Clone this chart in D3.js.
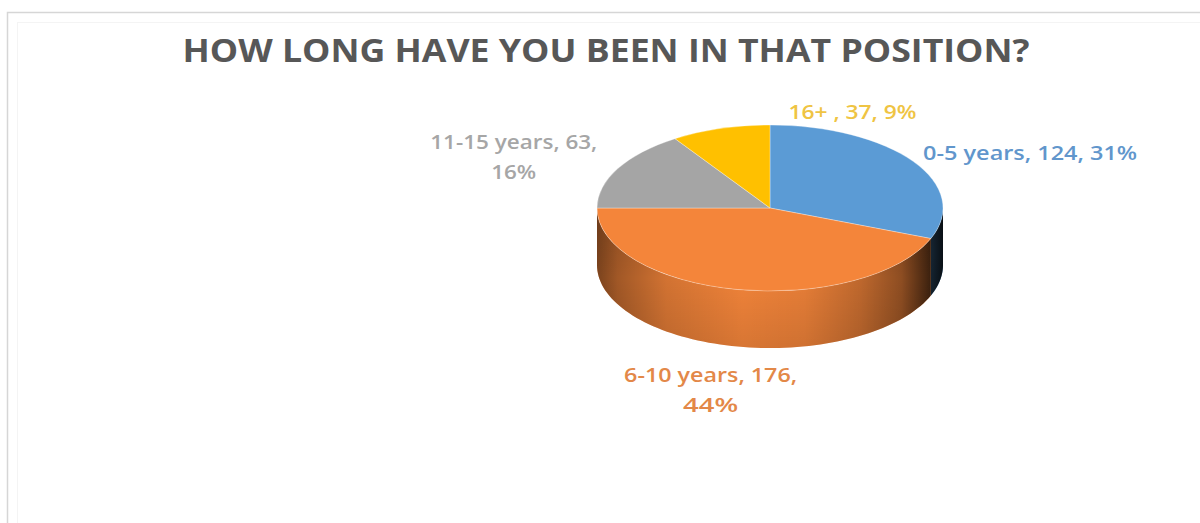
<!DOCTYPE html>
<html>
<head>
<meta charset="utf-8">
<script src="https://cdn.jsdelivr.net/npm/d3@7"></script>
<style>
  body { margin: 0; background: #fff; }
  svg { display: block; }
</style>
</head>
<body>
<div id="chart"></div>
<script>
// data
const categories = ["0-5 years", "6-10 years", "11-15 years", "16+ "];
const counts = [124, 176, 63, 37];
const colors = ["#5B9BD5", "#F4853A", "#A5A5A5", "#FFC000"];
const labelColors = ["#6196CC", "#E38848", "#A6A6A6", "#EFC443"];

// label layout: offset from slice mid point on the rim, line widths to fit
const labelLayout = [
  { dx: 10, dy: -1, anchor: "start", widths: [214] },
  { dx: -27, dy: 35, anchor: "middle", widths: [173, 55] },
  { dx: -104, dy: -20, anchor: "middle", widths: [167, 45] },
  { dx: 68, dy: -9, anchor: "start", widths: [128] }
];

let width = 1200;
let height = 523;

const svg = d3.select("#chart").append("svg")
  .attr("width", width)
  .attr("height", height);

// chart frame
svg.append("rect")
  .attr("x", 7.5).attr("y", 12.5)
  .attr("width", width).attr("height", height)
  .attr("fill", "none")
  .attr("stroke", "#d6d6d6")
  .attr("stroke-width", 1.5);
svg.append("rect")
  .attr("x", 17.5).attr("y", 22.5)
  .attr("width", width).attr("height", height)
  .attr("fill", "none")
  .attr("stroke", "#f4f4f4")
  .attr("stroke-width", 1);

svg.append("text")
  .attr("x", 606)
  .attr("y", 62)
  .attr("text-anchor", "middle")
  .attr("font-family", "'Open Sans', sans-serif")
  .attr("font-weight", "bold")
  .attr("font-size", 33)
  .attr("textLength", 847)
  .attr("lengthAdjust", "spacingAndGlyphs")
  .attr("fill", "#575757")
  .text("HOW LONG HAVE YOU BEEN IN THAT POSITION?");

const cx = 770, cy = 208, rx = 173, ry = 83, depth = 57;

const total = d3.sum(counts);
const pie = d3.pie().sort(null).value(d => d)(counts);

const px = a => cx + rx * Math.sin(a);
const py = a => cy - ry * Math.cos(a);

// shading for the side wall
const defs = svg.append("defs");
const shade = defs.append("linearGradient")
  .attr("id", "sideShade")
  .attr("gradientUnits", "userSpaceOnUse")
  .attr("x1", cx - rx).attr("x2", cx + rx)
  .attr("y1", 0).attr("y2", 0);
[[0, 0.5], [0.06, 0.34], [0.2, 0.14], [0.42, 0.02], [0.6, 0.06], [0.76, 0.22], [0.88, 0.42], [0.95, 0.7], [1, 0.9]]
  .forEach(s => shade.append("stop")
    .attr("offset", s[0])
    .attr("stop-color", "#000")
    .attr("stop-opacity", s[1]));
const gloss = defs.append("linearGradient")
  .attr("id", "sideGloss")
  .attr("x1", 0).attr("x2", 0).attr("y1", 0).attr("y2", 1);
[[0, 0.12], [0.5, 0], [1, 0.1]].forEach(s => gloss.append("stop")
  .attr("offset", s[0])
  .attr("stop-color", "#000")
  .attr("stop-opacity", s[1]));

// side walls (front half only)
const sides = svg.append("g");
pie.forEach((p, i) => {
  const a0 = Math.max(p.startAngle, Math.PI / 2);
  const a1 = Math.min(p.endAngle, Math.PI * 1.5);
  if (a1 <= a0) return;
  const steps = 80;
  const angles = d3.range(steps + 1).map(k => a0 + (a1 - a0) * k / steps);
  const top = angles.map(a => [px(a), py(a)]);
  const bottom = angles.slice().reverse().map(a => [px(a), py(a) + depth]);
  const d = d3.line()(top.concat(bottom)) + "Z";
  sides.append("path").attr("d", d).attr("fill", colors[i]);
  sides.append("path").attr("d", d).attr("fill", "url(#sideShade)");
  sides.append("path").attr("d", d).attr("fill", "url(#sideGloss)");
});

// top face
const arc = d3.arc().innerRadius(0).outerRadius(rx);
svg.append("g")
  .attr("transform", `translate(${cx},${cy}) scale(1,${ry / rx})`)
  .selectAll("path")
  .data(pie)
  .join("path")
  .attr("d", arc)
  .attr("fill", (d, i) => colors[i])
  .attr("stroke", "#fff")
  .attr("stroke-opacity", 0.4)
  .attr("stroke-width", 0.8)
  .attr("vector-effect", "non-scaling-stroke");

// data labels
const pct = v => Math.round(v / total * 100) + "%";
pie.forEach((p, i) => {
  const mid = (p.startAngle + p.endAngle) / 2;
  let x = px(mid), y = py(mid);
  if (Math.cos(mid) < 0) y += depth;
  const lay = labelLayout[i];
  const full = `${categories[i]}, ${counts[i]}, ${pct(counts[i])}`;
  const lines = lay.widths.length === 1 ? [full] : [`${categories[i]}, ${counts[i]},`, pct(counts[i])];
  const t = svg.append("text")
    .attr("x", x + lay.dx)
    .attr("y", y + lay.dy)
    .attr("text-anchor", lay.anchor)
    .attr("font-family", "'Open Sans', sans-serif")
    .attr("font-weight", 600)
    .attr("font-size", 20)
    .attr("fill", labelColors[i]);
  lines.forEach((ln, k) => {
    t.append("tspan")
      .attr("x", x + lay.dx)
      .attr("dy", k === 0 ? 0 : 30)
      .attr("textLength", lay.widths[k])
      .attr("lengthAdjust", "spacingAndGlyphs")
      .text(ln);
  });
});
</script>
</body>
</html>
